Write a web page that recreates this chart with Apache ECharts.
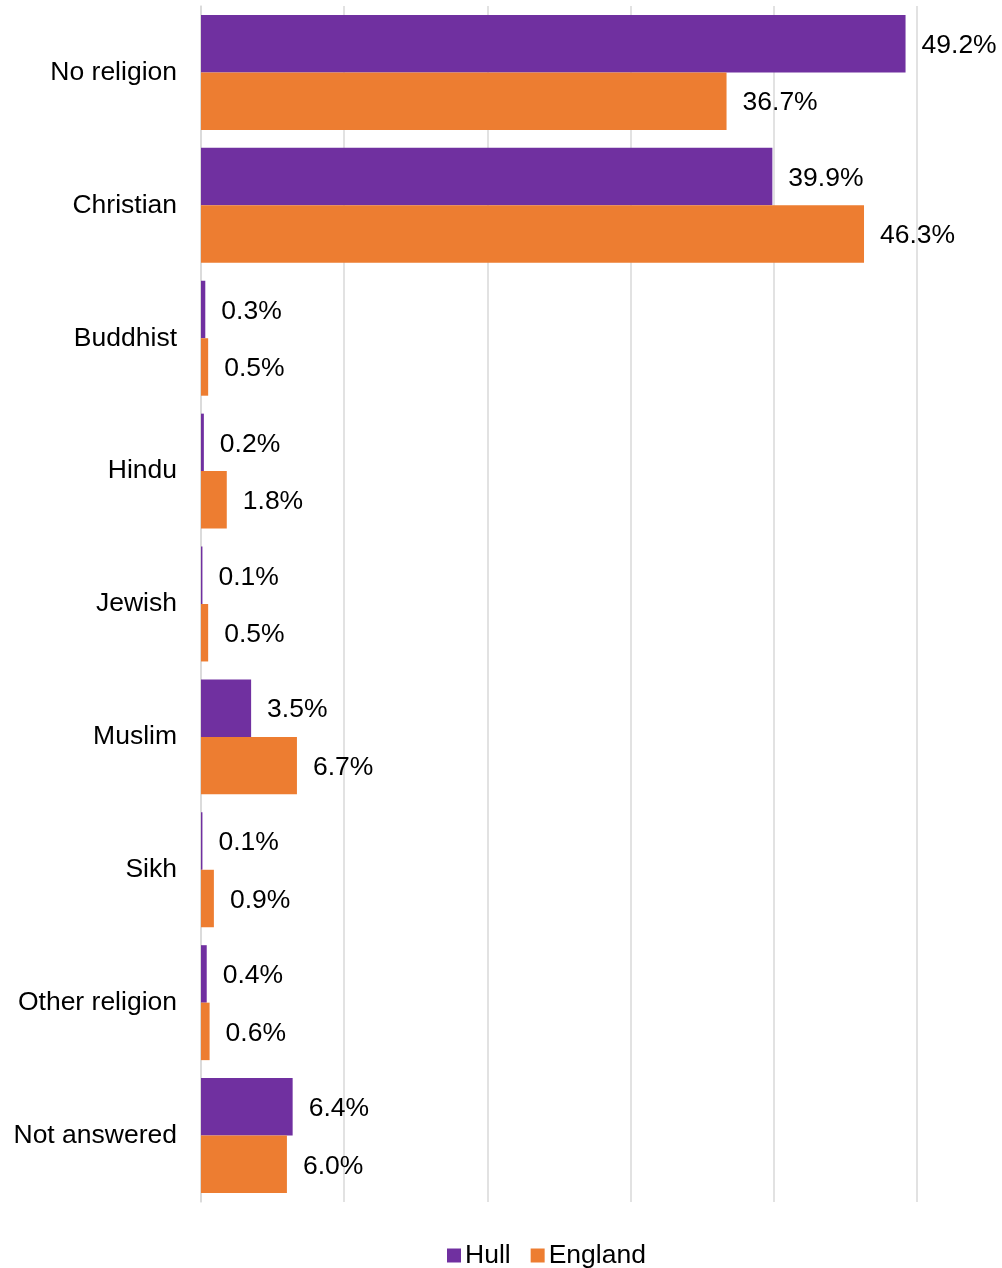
<!DOCTYPE html>
<html><head><meta charset="utf-8">
<script src="https://cdn.jsdelivr.net/npm/echarts@6/dist/echarts.min.js"></script>
<style>html,body{margin:0;padding:0;background:#fff}#c{width:1002px;height:1268px}</style>
</head><body><div id="c"></div>
<script>
const categories = ["No religion","Christian","Buddhist","Hindu","Jewish","Muslim","Sikh","Other religion","Not answered"];
const hull = [49.2,39.9,0.3,0.2,0.1,3.5,0.1,0.4,6.4];
const england = [36.7,46.3,0.5,1.8,0.5,6.7,0.9,0.6,6.0];
const seriesNames = ["Hull","England"];
const FONT = "'Liberation Sans', Arial, sans-serif";
const FS = 26.5;
const chart = echarts.init(document.getElementById('c'));
const lbl = {show:true, position:'right', distance:16, offset:[0,2], color:'#000', fontSize:FS, fontFamily:FONT, formatter: p => p.value.toFixed(1) + '%'};
chart.setOption({
  animation:false,
  textStyle:{fontFamily:FONT},
  grid:{left:201, right:85, top:6, bottom:66, containLabel:false},
  xAxis:{type:'value', min:0, max:50, interval:10, axisLabel:{show:false}, axisLine:{show:false}, axisTick:{show:false},
    splitLine:{show:true, lineStyle:{color:'#d9d9d9', width:1.5}}},
  yAxis:{type:'category', data:categories, inverse:true,
    axisLine:{show:true, lineStyle:{color:'#d9d9d9', width:1.5}}, axisTick:{show:false},
    axisLabel:{color:'#000', fontSize:FS, fontFamily:FONT, margin:24, padding:[4,0,0,0]}},
  legend:{top:1237, left:442, itemWidth:14, itemHeight:14, itemGap:20, icon:'rect',
    textStyle:{color:'#000', fontSize:FS, fontFamily:FONT, padding:[0,0,0,-1]}},
  series:[
    {name:seriesNames[0], type:'bar', data:hull, itemStyle:{color:'#7030A0'}, barGap:'0%', barCategoryGap:'13.5%', label:lbl},
    {name:seriesNames[1], type:'bar', data:england, itemStyle:{color:'#ED7D31'}, barGap:'0%', barCategoryGap:'13.5%', label:lbl}
  ]
});
</script></body></html>
